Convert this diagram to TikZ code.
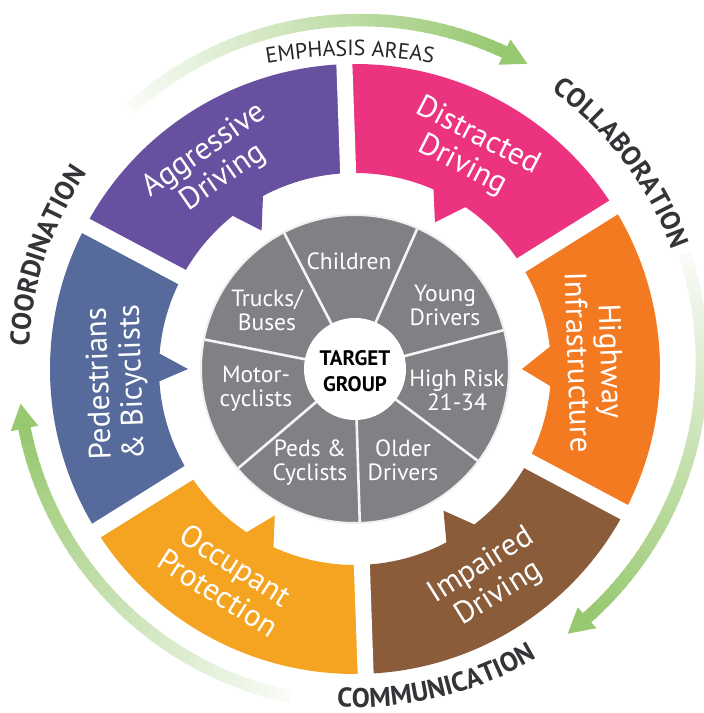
\documentclass[tikz,border=0pt]{standalone}
\usepackage{fontspec}
\setmainfont{PT Sans}
\usetikzlibrary{decorations.text}
\definecolor{pinkc}{RGB}{236,51,128}
\definecolor{purplec}{RGB}{104,80,160}
\definecolor{bluec}{RGB}{86,106,155}
\definecolor{occc}{RGB}{244,164,32}
\definecolor{brownc}{RGB}{138,92,58}
\definecolor{hwyc}{RGB}{243,122,33}
\definecolor{diskc}{RGB}{128,129,133}
\definecolor{grn}{RGB}{152,200,112}
\definecolor{txtc}{RGB}{52,52,56}
% ring segment: colour, start, end, base1, tip, base2
\newcommand{\ringseg}[6]{%
  \fill[#1] (#2:305) arc[start angle=#2, end angle=#3, radius=305pt]
    -- (#3:196) arc[start angle=#3, end angle=#4, radius=196pt]
    -- (#5:167) -- (#6:196) arc[start angle=#6, end angle=#2, radius=196pt] -- cycle;}
% green arrow: tail angle, head base angle, tip angle
\newcommand{\greenarrow}[3]{%
  \foreach \i in {0,...,47}{%
    \pgfmathsetmacro\aa{#1+(#2-(#1))*\i/48}%
    \pgfmathsetmacro\bb{#1+(#2-(#1))*(\i+1.3)/48}%
    \pgfmathtruncatemacro\pp{4+96*(\i+1)/48}%
    \draw[line width=12.5pt, grn!\pp!white] (\aa:342) arc[start angle=\aa, end angle=\bb, radius=342pt];
  }%
  \fill[grn] (#3:342) -- (#2:356) -- (#2:328) -- cycle;}
\begin{document}
\begin{tikzpicture}[x=1pt,y=1pt,
  seglabel/.style={text=white, font=\fontsize{31}{33}\selectfont, align=center, inner sep=0pt},
  grplabel/.style={text=white, font=\fontsize{23.5}{24}\selectfont, align=center, inner sep=0pt},
  centerlabel/.style={text=black, font=\bfseries\fontsize{21}{26}\selectfont, align=center, inner sep=0pt},
  gapline/.style={white, line width=16pt},
  divline/.style={white!92!diskc, line width=2.6pt},
  curvedword/.style={decorate, decoration={text along path, text align=center, text color=txtc,
      text={|\bfseries\fontsize{27}{27}\selectfont|#1}}}
]
\useasboundingbox (0,0) rectangle (704,713);
\fill[white] (0,0) rectangle (704,713);

\begin{scope}[shift={(355,344)}]
  \ringseg{hwyc}{-28}{32}{6.5}{0}{-5}
  \ringseg{pinkc}{32}{92}{66.4}{61.4}{55.7}
  \ringseg{purplec}{92}{152}{128.6}{124}{118}
  \ringseg{bluec}{152}{212}{183.6}{180}{175.5}
  \ringseg{occc}{212}{272}{245.4}{241.3}{236.4}
  \ringseg{brownc}{272}{332}{307.5}{302}{297.8}
  \foreach \g in {32,92,152,212,272,332}
    \draw[gapline] (0,0) -- (\g:330);
  \fill[diskc] (0,0) circle[radius=154pt];
  \draw[white!88!diskc, line width=2pt] (0,0) circle[radius=154pt];
  \foreach \k in {0,...,6}{
    \pgfmathsetmacro\dd{117.5-51.4286*\k}
    \draw[divline] (\dd:50) -- (\dd:153);
  }
  \fill[white] (0,0) circle[radius=51pt];
\end{scope}

% inner group labels
\node[grplabel] (children) at (349,452) {Children};
\node[grplabel] (young) at (445,408) {Young\\Drivers};
\node[grplabel] (highrisk) at (457,323) {High Risk\\21-34};
\node[grplabel] (older) at (403,253) {Older\\Drivers};
\node[grplabel] (peds) at (310,250) {Peds \&\\Cyclists};
\node[grplabel] (motor) at (256,324) {Motor-\\cyclists};
\node[grplabel] (trucks) at (267,403) {Trucks/\\Buses};
\node[centerlabel] (target) at (355,342) {TARGET\\GROUP};

% emphasis area labels
\node[seglabel, rotate=34.7] (agg) at (214,549) {Aggressive\\Driving};
\node[seglabel, rotate=-27.3] (dis) at (470,562) {Distracted\\Driving};
\node[seglabel, rotate=-88] (hwy) at (595,351) {Highway\\Infrastructure};
\node[seglabel, rotate=32] (imp) at (490,133) {Impaired\\Driving};
\node[seglabel, rotate=-32.5] (occ) at (227,134) {Occupant\\Protection};
\node[seglabel, rotate=92] (ped) at (117,330) {Pedestrians\\\& Bicyclists};

% green arrows and curved words
\begin{scope}[shift={(360,351)}]
  \greenarrow{132}{65}{60.7}
  \greenarrow{18.4}{-48.4}{-52.6}
  \greenarrow{258.3}{191.2}{187}
  \path[curvedword=COLLABORATION] (77.3:331.5) arc[start angle=77.3, end angle=-2.7, radius=331.5pt];
  \path[curvedword=COORDINATION] (201.3:331.5) arc[start angle=201.3, end angle=121.3, radius=331.5pt];
  \path[curvedword=COMMUNICATION] (243.5:345) arc[start angle=243.5, end angle=323.5, radius=345pt];
\end{scope}
\begin{scope}[shift={(350,173)}]
  \path[decorate, decoration={text along path, text align=center, text color=black!85,
      text={|\fontsize{22}{22}\selectfont|EMPHASIS AREAS}}]
    (105:484) arc[start angle=105, end angle=75, radius=484pt];
\end{scope}
\end{tikzpicture}
\end{document}
